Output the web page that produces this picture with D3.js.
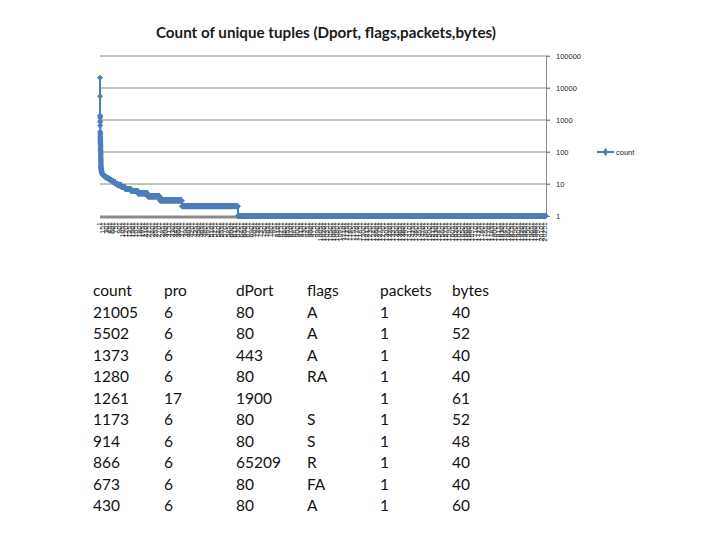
<!DOCTYPE html>
<html>
<head>
<meta charset="utf-8">
<script src="https://cdn.jsdelivr.net/npm/d3@7"></script>
<style>
  body { margin: 0; background: #fff; }
  svg { display: block; }
</style>
</head>
<body>
<svg id="chart" width="720" height="540"></svg>
<script>
// top 10 tuples, also shown in the table below the chart
const counts = [21005, 5502, 1373, 1280, 1261, 1173, 914, 866, 673, 430];
const pro = [6, 6, 6, 6, 17, 6, 6, 6, 6, 6];
const dPort = [80, 80, 443, 80, 1900, 80, 80, 65209, 80, 80];
const flags = ["A", "A", "A", "RA", "", "S", "S", "R", "FA", "A"];
const packets = [1, 1, 1, 1, 1, 1, 1, 1, 1, 1];
const bytes = [40, 52, 40, 40, 61, 52, 48, 40, 40, 60];
const columns = ["count", "pro", "dPort", "flags", "packets", "bytes"];

// next ranks of the sorted count series, read point by point
const headCounts = [402, 371, 345, 318, 296, 274, 255, 231, 212, 198, 184, 171, 160,
  148, 137, 126, 118, 109, 101, 95, 88, 82, 76, 71, 66, 62, 58, 54, 51, 48, 45, 42,
  40, 38, 36, 34, 32, 31, 30];

// rest of the series as runs: [count value, how many tuples have it]
const tailRuns = [
  [29, 4], [28, 4], [27, 5], [26, 5], [25, 6], [24, 7], [23, 7], [22, 8], [21, 9], [20, 11],
  [19, 40], [18, 45], [17, 55], [16, 65], [15, 65], [14, 75], [13, 85],
  [12, 80], [11, 90], [10, 105], [9, 150], [8, 170], [7, 270], [6, 320],
  [5, 455], [4, 545], [3, 1000], [2, 2550], [1, 14020]
];

const yTicks = [1, 10, 100, 1000, 10000, 100000];
const labelStep = 150;

const series = counts.concat(headCounts);
tailRuns.forEach(([v, n]) => { for (let k = 0; k < n; k++) series.push(v); });
const N = series.length;

const svg = d3.select("#chart");
const blue = "#4a7ebb";
const grid = "#868686";

const plot = { left: 100, right: 546, top: 56, bottom: 216 };

const x = d3.scaleLinear().domain([0, N]).range([plot.left, plot.right]);
const y = d3.scaleLog().domain([1, 100000]).range([plot.bottom, plot.top]);

// title
svg.append("text")
  .attr("x", 326)
  .attr("y", 38)
  .attr("text-anchor", "middle")
  .attr("font-family", "Lato, 'Open Sans', sans-serif")
  .attr("font-weight", "bold")
  .attr("font-size", 15.2)
  .attr("fill", "#1a1a1a")
  .text("Count of unique tuples (Dport, flags,packets,bytes)");

// horizontal gridlines
svg.append("g")
  .selectAll("line")
  .data(yTicks.slice(1))
  .join("line")
  .attr("x1", plot.left)
  .attr("x2", plot.right + 4)
  .attr("y1", (d) => y(d))
  .attr("y2", (d) => y(d))
  .attr("stroke", grid)
  .attr("stroke-width", 1);

// right value axis
const yAxis = svg.append("g")
  .attr("transform", `translate(${plot.right},0)`)
  .call(d3.axisRight(y).tickValues(yTicks).tickFormat(d3.format("d")).tickSize(4).tickPadding(6));
yAxis.select(".domain").attr("stroke", grid);
yAxis.selectAll(".tick line").attr("stroke", grid);
yAxis.selectAll("text")
  .attr("font-family", "'Liberation Sans', Arial, sans-serif")
  .attr("font-size", 7.5)
  .attr("fill", "#222");

// category axis line at value 1
svg.append("line")
  .attr("x1", plot.left)
  .attr("x2", plot.right)
  .attr("y1", y(1) + 1)
  .attr("y2", y(1) + 1)
  .attr("stroke", "#8c8c8c")
  .attr("stroke-width", 3);

// category labels, rotated
const labelIdx = d3.range(0, N, labelStep);
svg.append("g")
  .selectAll("text")
  .data(labelIdx)
  .join("text")
  .attr("transform", (i) => `translate(${x(i + 0.5) + 2},${plot.bottom + 6}) rotate(-90)`)
  .attr("text-anchor", "end")
  .attr("font-family", "'Liberation Sans', Arial, sans-serif")
  .attr("font-size", 7)
  .attr("fill", "#222")
  .text((i) => i + 1);

// series line
const line = d3.line()
  .x((d, i) => x(i + 0.5))
  .y((d) => y(d));
svg.append("path")
  .datum(series)
  .attr("d", line)
  .attr("fill", "none")
  .attr("stroke", blue)
  .attr("stroke-width", 2);

// diamond markers, one per point, in a single path
const r = 3;
const markers = series.map((d, i) => {
  const cx = x(i + 0.5), cy = y(d);
  return `M${cx.toFixed(2)},${(cy - r).toFixed(2)}L${(cx + r).toFixed(2)},${cy.toFixed(2)}L${cx.toFixed(2)},${(cy + r).toFixed(2)}L${(cx - r).toFixed(2)},${cy.toFixed(2)}Z`;
}).join("");
svg.append("path")
  .attr("d", markers)
  .attr("fill", blue)
  .attr("stroke", "none");

// legend
const legend = svg.append("g").attr("transform", "translate(597,152)");
legend.append("line")
  .attr("x1", 0).attr("x2", 17)
  .attr("stroke", blue).attr("stroke-width", 2);
legend.append("path")
  .attr("d", d3.symbol().type(d3.symbolDiamond).size(22)())
  .attr("transform", "translate(8.5,0)")
  .attr("fill", blue);
legend.append("text")
  .attr("x", 19)
  .attr("y", 2.5)
  .attr("font-family", "'Liberation Sans', Arial, sans-serif")
  .attr("font-size", 7.5)
  .attr("fill", "#222")
  .text("count");

// table of the top tuples
const colX = [93, 164, 236, 307, 380, 452];
const colData = [counts, pro, dPort, flags, packets, bytes];
const rowY = (r) => 296 + r * 21.5;
const table = svg.append("g")
  .attr("font-family", "Lato, 'Open Sans', sans-serif")
  .attr("font-size", 15.5)
  .attr("fill", "#111");
columns.forEach((name, c) => {
  table.append("text").attr("x", colX[c]).attr("y", rowY(0)).text(name);
  colData[c].forEach((v, r) => {
    table.append("text").attr("x", colX[c]).attr("y", rowY(r + 1)).text(v);
  });
});
</script>
</body>
</html>
